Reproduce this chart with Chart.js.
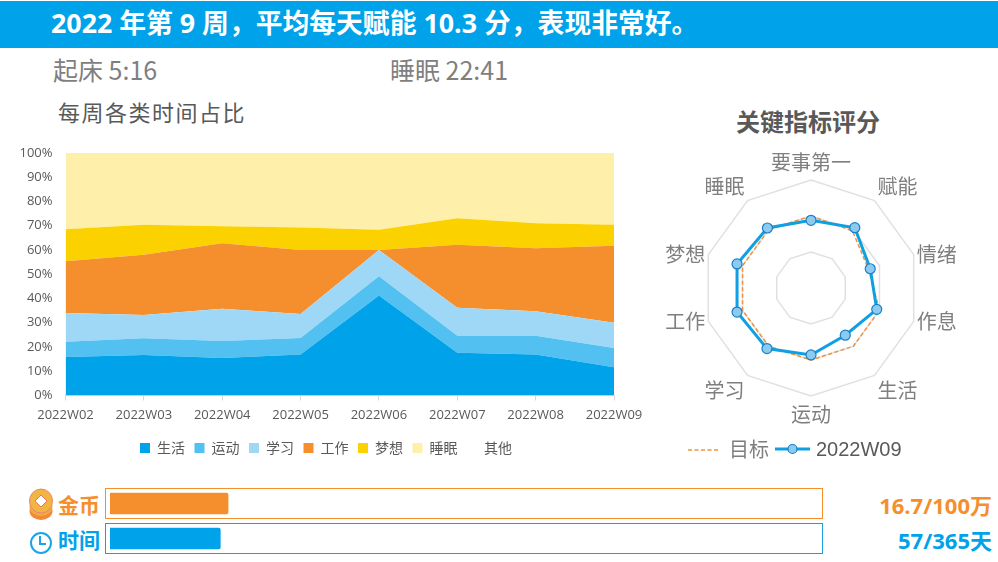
<!DOCTYPE html>
<html lang="zh">
<head>
<meta charset="utf-8">
<title>2022 第 9 周</title>
<script src="https://cdn.jsdelivr.net/npm/chart.js@4"></script>
<style>
  html, body { margin: 0; padding: 0; background: #fff; }
  body { position: relative; width: 998px; height: 562px; overflow: hidden; font-family: "Noto Sans CJK SC", "Open Sans", sans-serif; }
  .abs { position: absolute; white-space: nowrap; line-height: 1; }
  #header { position: absolute; left: 0; top: 1px; width: 998px; height: 47px; background: #00a2e9; }
  #headline { left: 51px; top: 10px; font-size: 26.8px; font-weight: 700; color: #fff; font-family: "Open Sans", "Noto Sans CJK SC", sans-serif; }
  .sub { top: 57px; font-size: 25px; color: #7f7f7f; }
  #areaTitle { left: 58px; top: 100px; font-size: 22px; color: #595959; letter-spacing: 1.5px; }
  #radarTitle { left: 736px; top: 109px; font-size: 24px; font-weight: 700; color: #595959; }
  canvas { position: absolute; }
  #areaWrap { position: absolute; left: 0; top: 140px; width: 660px; height: 325px; }
  #radarWrap { position: absolute; left: 641px; top: 144px; width: 340px; height: 288px; }
  #barWrap { position: absolute; left: 110px; top: 486px; width: 707px; height: 70px; }
  .frame { position: absolute; left: 105px; width: 716px; height: 29px; border: 1px solid; }
  .tag { left: 58px; font-size: 21px; font-weight: 700; }
  .val { right: 6px; font-size: 22px; font-weight: 700; font-family: "Open Sans", "Noto Sans CJK SC", sans-serif; }
  .orange { color: #f58e2c; }
  .blue { color: #00a2e9; }
  .leg { top: 439px; font-size: 20px; color: #7f7f7f; }
</style>
</head>
<body>
<div id="header"></div>
<div class="abs" id="headline">2022 年第 9 周，平均每天赋能 10.3 分，表现非常好。</div>
<div class="abs sub" style="left:53px">起床 5:16</div>
<div class="abs sub" style="left:390px">睡眠 22:41</div>
<div class="abs" id="areaTitle">每周各类时间占比</div>
<div class="abs" id="radarTitle">关键指标评分</div>

<div id="areaWrap"><canvas id="areaChart"></canvas></div>
<div id="radarWrap"><canvas id="radarChart"></canvas></div>

<!-- radar legend -->
<svg class="abs" style="left:688px;top:440px" width="124" height="20">
  <line x1="0" y1="10" x2="32" y2="10" stroke="#f4913a" stroke-width="1.5" stroke-dasharray="4 2.5"/>
  <line x1="87" y1="9" x2="122" y2="9" stroke="#0f9fe3" stroke-width="3"/>
  <circle cx="104.5" cy="9" r="4.5" fill="#8ccbf0" stroke="#1a7fc9" stroke-width="1.2"/>
</svg>
<div class="abs leg" style="left:729px">目标</div>
<div class="abs leg" style="left:816px;color:#595959;font-family:'Liberation Sans',sans-serif">2022W09</div>

<!-- progress rows -->
<div class="frame" style="top:488px;border-color:#f58e2c"></div>
<div class="frame" style="top:523px;border-color:#1a9fdc"></div>
<div id="barWrap"><canvas id="barChart"></canvas></div>
<svg class="abs" style="left:28px;top:488px" width="26" height="34">
  <ellipse cx="13" cy="23" rx="11.5" ry="9" fill="#ee8a3a"/>
  <ellipse cx="13" cy="19" rx="11.5" ry="9" fill="#f5a742"/>
  <ellipse cx="13" cy="13" rx="11.5" ry="12" fill="#f2b544" stroke="#e58a70" stroke-width="1"/>
  <path d="M13 7 L19 13 L13 19 L7 13 Z" fill="#fff" stroke="#e8765a" stroke-width="1"/>
</svg>
<svg class="abs" style="left:29px;top:531px" width="24" height="24">
  <circle cx="12" cy="12" r="10" fill="none" stroke="#1aa5e8" stroke-width="2"/>
  <path d="M11 5 V13 H17" fill="none" stroke="#1aa5e8" stroke-width="2"/>
</svg>
<div class="abs tag orange" style="top:494px">金币</div>
<div class="abs tag blue" style="top:529px">时间</div>
<div class="abs val orange" style="top:494px">16.7/100万</div>
<div class="abs val blue" style="top:529px">57/365天</div>

<script>
const weeks = ["2022W02", "2022W03", "2022W04", "2022W05", "2022W06", "2022W07", "2022W08", "2022W09"];
const life = [15.9, 16.7, 15.5, 16.9, 41.2, 17.6, 16.9, 11.6];
const sport = [6.2, 6.9, 7.0, 6.8, 7.9, 7.0, 7.7, 8.0];
const study = [11.9, 9.6, 13.2, 9.9, 10.9, 11.6, 10.1, 10.4];
const work = [21.3, 24.8, 27.0, 26.3, 0, 25.9, 26.0, 31.7];
const dream = [13.2, 12.4, 7.0, 9.3, 8.3, 10.9, 10.3, 8.7];
const sleep = [31.5, 29.6, 30.3, 30.8, 31.7, 27.0, 29.0, 29.6];
const other = [0, 0, 0, 0, 0, 0, 0, 0];

const indicators = ["要事第一", "赋能", "情绪", "作息", "生活", "运动", "学习", "工作", "梦想", "睡眠"];
const target = [10, 9.8, 8.4, 10, 10, 10, 10, 10, 10, 10];
const week09 = [9.4, 10.35, 8.65, 9.6, 8.1, 9.3, 10.4, 10.8, 10.8, 10.3];

const progressLabels = ["金币", "时间"];
const progressValues = [16.7, 15.6];

Chart.defaults.font.family = '"Noto Sans CJK SC", "Open Sans", sans-serif';
Chart.defaults.animation = false;
Chart.defaults.responsive = true;
Chart.defaults.maintainAspectRatio = false;

function areaSet(label, data, color, idx) {
  return {
    label: label,
    data: data,
    backgroundColor: color,
    borderColor: color,
    borderWidth: 0,
    pointRadius: 0,
    tension: 0,
    fill: idx === 0 ? "origin" : "-1",
  };
}

// the legend sits right of the plot centre in the picture
const shiftLegend = {
  id: "shiftLegend",
  afterLayout(chart) {
    chart.legend.left += 19;
    chart.legend.right += 19;
  },
};

new Chart(document.getElementById("areaChart"), {
  type: "line",
  data: {
    labels: weeks,
    datasets: [
      areaSet("生活", life, "#00a2e9", 0),
      areaSet("运动", sport, "#53c0f2", 1),
      areaSet("学习", study, "#9fd8f6", 2),
      areaSet("工作", work, "#f58e2c", 3),
      areaSet("梦想", dream, "#fbd200", 4),
      areaSet("睡眠", sleep, "#feefaa", 5),
      areaSet("其他", other, "rgba(0,0,0,0)", 6),
    ],
  },
  options: {
    // right padding has to stay wider than half a tick label or the scale shrinks
    layout: { autoPadding: false, padding: { top: 11, right: 46, bottom: 0, left: 0 } },
    plugins: {
      tooltip: { enabled: false },
      legend: {
        position: "bottom",
        labels: { boxWidth: 10, boxHeight: 10, padding: 9.5, color: "#595959", font: { size: 14 } },
      },
    },
    scales: {
      x: {
        stacked: true,
        offset: false,
        grid: { drawOnChartArea: false, color: "#d9d9d9", tickLength: 5 },
        border: { color: "#d9d9d9" },
        ticks: { color: "#595959", font: { family: "Open Sans", size: 13 }, maxRotation: 0, autoSkip: false, padding: 7 },
        afterFit: (s) => { s.height = 36; },
      },
      y: {
        stacked: true,
        min: 0,
        max: 100,
        grid: { display: false },
        border: { display: false },
        ticks: { stepSize: 10, color: "#595959", font: { family: "Open Sans", size: 13 }, padding: 5, callback: (v) => v + "%" },
        afterFit: (s) => { s.width = 65.5; },
      },
    },
  },
  plugins: [shiftLegend],
});

// chart.js hangs the side labels above their vertex, the picture centres them on it
const radarLabels = {
  id: "radarLabels",
  afterDraw(chart) {
    const scale = chart.scales.r;
    const ctx = chart.ctx;
    const dist = scale.getDistanceFromCenterForValue(scale.max);
    ctx.save();
    ctx.font = '20px "Noto Sans CJK SC"';
    ctx.fillStyle = "#7f7f7f";
    ctx.textAlign = "center";
    ctx.textBaseline = "middle";
    indicators.forEach((name, i) => {
      const p = scale.getPointPosition(i, dist);
      const a = (i * 2 * Math.PI) / indicators.length;
      const dx = Math.abs(Math.sin(a)) > 0.1 ? Math.sign(Math.sin(a)) * 23 : 0;
      const dy = Math.abs(Math.cos(a)) > 0.5 ? -Math.cos(a) * 18 : 0;
      ctx.fillText(name, p.x + dx, p.y + dy);
    });
    ctx.restore();
  },
};

new Chart(document.getElementById("radarChart"), {
  type: "radar",
  data: {
    labels: indicators,
    datasets: [
      {
        label: "2022W09",
        data: week09,
        borderColor: "#0f9fe3",
        borderWidth: 3,
        backgroundColor: "rgba(0,0,0,0)",
        pointRadius: 5,
        pointBackgroundColor: "#8ccbf0",
        pointBorderColor: "#1a7fc9",
        pointBorderWidth: 1.2,
      },
      {
        label: "目标",
        data: target,
        borderColor: "#f4913a",
        borderWidth: 1.5,
        borderDash: [4, 2.5],
        backgroundColor: "rgba(0,0,0,0)",
        pointRadius: 0,
      },
    ],
  },
  options: {
    layout: { padding: { top: 36, bottom: 36 } },
    plugins: { legend: { display: false }, tooltip: { enabled: false } },
    scales: {
      r: {
        min: 0,
        max: 15,
        ticks: { display: false, stepSize: 5 },
        grid: { color: "#e0e0e0", lineWidth: 1.5 },
        angleLines: { display: false },
        pointLabels: { display: false },
      },
    },
  },
  plugins: [radarLabels],
});

new Chart(document.getElementById("barChart"), {
  type: "bar",
  data: {
    labels: progressLabels,
    datasets: [
      {
        data: progressValues,
        backgroundColor: ["#f58e2c", "#00a2e9"],
        barThickness: 21,
        borderRadius: 2,
      },
    ],
  },
  options: {
    indexAxis: "y",
    layout: { autoPadding: false },
    plugins: { legend: { display: false }, tooltip: { enabled: false } },
    scales: {
      x: { display: false, min: 0, max: 100 },
      y: { display: false },
    },
  },
});
</script>
</body>
</html>
